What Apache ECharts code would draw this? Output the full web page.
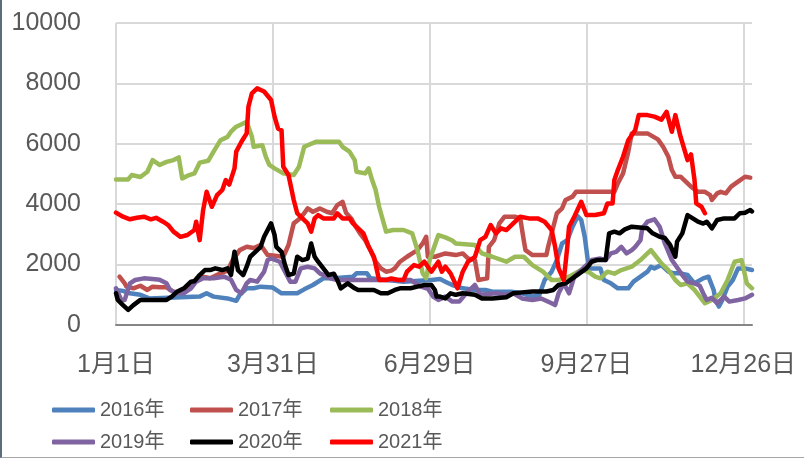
<!DOCTYPE html>
<html>
<head>
<meta charset="utf-8">
<script src="https://cdn.jsdelivr.net/npm/echarts@6/dist/echarts.min.js"></script>
<style>
	html, body { margin: 0; padding: 0; background: #fff; }
	#frame { position: absolute; left: 0; top: 0; width: 804px; height: 458px; box-sizing: border-box;
		border-left: 2px solid #5d6b7e; border-bottom: 1px solid #a6a6a6; }
	#chart { position: absolute; left: 0; top: 0; width: 804px; height: 458px; }
</style>
</head>
<body>
<div id="chart"></div>
<div id="frame"></div>
<script>
	// x = day of year (0 = 1月1日), y = value
	var xLabels = ['1月1日', '3月31日', '6月29日', '9月27日', '12月26日'];
	var yTicks = [0, 2000, 4000, 6000, 8000, 10000];
	var seriesNames = ['2016年', '2017年', '2018年', '2019年', '2020年', '2021年'];

	var s2016 = [[0,1160],[4,1130],[8,1050],[14,1000],[19,880],[48,940],[52,1050],[56,940],[64,880],[69,800],[71,1000],[75,1215],[79,1215],[83,1270],[90,1240],[95,1050],[104,1050],[108,1180],[113,1325],[119,1545],[125,1545],[136,1600],[138,1710],[144,1710],[146,1545],[156,1490],[165,1435],[181,1490],[186,1520],[189,1435],[193,1325],[199,1215],[206,1160],[212,1160],[216,1100],[227,1100],[233,1050],[239,940],[243,1000],[246,1490],[250,1765],[253,2150],[256,2700],[259,2810],[262,3255],[265,3600],[267,3475],[269,2920],[271,2040],[272,1875],[278,1875],[280,1490],[284,1380],[288,1215],[294,1215],[297,1435],[301,1600],[305,1765],[307,1930],[309,1875],[313,1985],[317,1765],[320,1710],[324,1710],[328,1655],[332,1380],[337,1545],[340,1600],[343,1160],[344,830],[346,610],[348,830],[351,1270],[354,1490],[357,1875],[361,1875],[365,1820]];

	var s2017 = [[2,1600],[5,1380],[6,1270],[10,1215],[14,1300],[18,1160],[21,1270],[25,1250],[29,1250],[33,1100],[37,1080],[41,1200],[44,1435],[50,1600],[54,1550],[60,1710],[64,1800],[67,2150],[71,2480],[75,2590],[79,2550],[83,2650],[87,2315],[90,2300],[96,2260],[99,2650],[102,3365],[105,3500],[108,3700],[110,3860],[113,3750],[117,3860],[121,3750],[124,3700],[127,3970],[130,4080],[132,3720],[135,3530],[137,3310],[140,3035],[143,2810],[146,2480],[149,2095],[152,1875],[155,1765],[158,1800],[160,1875],[163,2095],[167,2260],[170,2370],[173,2480],[176,2700],[178,2920],[179,2260],[183,2260],[189,2370],[195,2315],[199,2370],[202,2205],[206,2150],[208,1490],[213,1545],[214,2590],[217,2810],[220,3365],[223,3585],[229,3585],[232,3530],[234,2810],[235,2480],[239,2315],[247,2315],[248,2590],[251,3255],[253,3700],[256,3860],[258,4140],[262,4250],[264,4410],[286,4410],[288,4690],[291,5020],[294,5740],[296,6345],[305,6345],[311,6145],[314,5900],[317,5570],[319,5130],[321,4910],[324,4910],[327,4745],[330,4580],[334,4410],[338,4410],[341,4300],[342,4140],[345,4360],[347,4410],[350,4360],[353,4580],[357,4745],[361,4910],[364,4880]];

	var s2018 = [[0,4820],[7,4820],[9,4965],[14,4900],[18,5075],[21,5460],[25,5300],[29,5400],[33,5460],[36,5550],[38,4855],[42,4965],[45,5020],[48,5375],[53,5440],[56,5740],[60,6120],[64,6230],[66,6400],[69,6565],[73,6675],[75,6730],[78,6230],[79,5900],[84,5950],[86,5570],[88,5300],[91,5185],[96,5020],[102,4965],[105,5240],[108,5900],[110,5950],[115,6070],[128,6070],[130,5900],[134,5740],[137,5460],[138,5075],[143,5020],[145,5185],[147,4800],[149,4470],[151,3915],[155,3090],[159,3145],[165,3145],[170,3035],[173,2480],[176,1710],[178,1550],[180,2150],[185,2980],[189,2900],[193,2800],[195,2700],[206,2650],[210,2370],[216,2260],[224,2095],[229,2260],[234,2260],[239,1985],[245,1765],[250,1490],[254,1490],[260,1600],[267,1820],[271,1765],[275,1600],[278,1545],[282,1765],[286,1700],[290,1820],[296,1930],[301,2150],[305,2370],[307,2480],[310,2260],[313,2040],[317,1820],[321,1490],[324,1325],[328,1380],[332,1160],[338,720],[342,830],[347,1050],[351,1490],[355,2095],[359,2150],[362,1380],[365,1215]];

	var s2019 = [[0,1215],[1,1100],[3,830],[5,830],[8,1380],[11,1490],[16,1545],[21,1520],[25,1500],[29,1380],[31,1160],[35,1050],[39,1050],[43,1215],[46,1435],[50,1545],[56,1545],[62,1600],[66,1500],[69,1160],[72,1050],[75,1380],[77,1490],[81,1435],[85,1765],[87,2150],[89,2205],[94,2095],[97,1765],[100,1435],[103,1435],[106,1875],[110,1930],[114,1875],[117,1710],[123,1545],[127,1490],[146,1490],[169,1490],[175,1270],[179,1200],[182,940],[185,830],[189,940],[193,775],[197,775],[201,1050],[206,1325],[209,1000],[218,1050],[224,1000],[228,1050],[233,880],[239,830],[244,880],[250,720],[252,660],[254,1050],[257,1380],[260,1050],[263,1600],[266,1765],[270,1985],[273,2150],[278,2200],[281,2150],[284,2370],[287,2420],[290,2590],[293,2370],[296,2480],[298,2590],[301,2810],[302,3200],[305,3420],[309,3500],[312,3255],[315,2700],[319,2150],[323,1820],[325,1655],[328,1435],[332,1380],[335,1300],[337,1050],[339,830],[342,900],[345,720],[349,940],[352,775],[357,830],[361,880],[365,1000]];

	var s2020 = [[0,1050],[1,830],[4,660],[7,500],[10,660],[14,830],[29,830],[32,940],[35,1100],[39,1215],[43,1435],[45,1450],[48,1655],[51,1820],[54,1820],[57,1875],[61,1820],[64,1875],[66,1655],[68,2425],[70,1820],[73,1655],[75,1930],[77,2260],[80,2425],[83,2590],[85,2920],[89,3365],[91,2980],[92,2590],[95,2425],[97,1985],[99,1655],[102,1700],[104,2260],[107,2150],[110,2200],[112,2700],[114,2260],[116,2095],[119,1875],[122,1655],[125,1700],[127,1490],[129,1215],[133,1380],[137,1215],[139,1160],[148,1160],[152,1050],[156,1050],[160,1160],[163,1215],[169,1215],[173,1270],[177,1325],[181,1325],[183,1160],[184,940],[186,940],[189,880],[192,1050],[195,1000],[199,1050],[206,1000],[210,880],[216,880],[224,920],[228,1050],[233,1080],[239,1110],[247,1110],[251,1160],[254,1325],[258,1380],[262,1545],[266,1710],[270,1875],[273,2095],[276,2150],[281,2150],[283,3035],[286,3090],[289,3035],[292,3165],[296,3255],[305,3200],[308,3035],[312,2920],[315,2880],[318,2650],[321,2260],[322,2760],[325,3035],[328,3640],[331,3530],[334,3420],[337,3360],[339,3420],[342,3200],[345,3475],[349,3530],[355,3530],[358,3700],[361,3720],[364,3805],[365,3760]];

	var s2021 = [[0,3720],[4,3585],[8,3500],[12,3550],[16,3585],[20,3500],[23,3550],[27,3420],[30,3310],[33,3090],[37,2920],[41,2980],[45,3145],[46,3420],[48,2810],[50,3805],[52,4410],[55,3915],[58,4300],[61,4470],[63,4800],[65,4650],[68,5185],[69,5740],[72,6070],[75,6345],[76,7230],[78,7670],[81,7835],[85,7730],[89,7450],[91,6900],[93,6500],[95,6450],[96,5240],[99,4965],[102,4140],[104,3700],[107,3530],[110,3365],[112,3090],[114,3530],[116,3640],[119,3530],[125,3530],[127,3700],[130,3530],[134,3530],[136,3365],[137,3420],[139,3200],[142,3035],[145,2590],[148,2260],[151,1490],[155,1490],[158,1540],[162,1490],[165,1490],[167,1765],[171,1985],[174,1930],[177,2095],[179,1930],[181,1765],[183,1930],[185,2095],[187,1765],[189,1930],[192,1710],[196,1215],[199,1765],[202,2095],[206,2260],[209,2810],[212,2920],[215,3310],[218,3035],[221,3200],[224,3145],[228,3365],[232,3585],[237,3530],[242,3530],[246,3420],[250,3145],[252,2590],[254,1875],[257,1490],[259,2590],[260,3255],[263,3585],[267,4080],[270,3640],[275,3640],[280,3700],[282,4025],[285,4025],[286,4800],[288,5130],[291,5570],[294,6120],[298,6455],[300,6950],[305,6950],[309,6900],[313,6800],[316,7060],[319,6400],[321,6950],[324,6235],[328,5460],[330,5650],[332,4800],[333,4025],[336,3915],[338,3700]];

	var seriesData = [s2016, s2017, s2018, s2019, s2020, s2021];
	var colors = ['#4F81BD', '#C0504D', '#9BBB59', '#8064A2', '#000000', '#FF0000'];

	var chart = echarts.init(document.getElementById('chart'));

	function makeSerie(name, data, color) {
		return {
			name: name,
			type: 'line',
			data: data,
			symbol: 'none',
			color: color,
			lineStyle: { width: 4.5, color: color, cap: 'round', join: 'round' },
			animation: false
		};
	}

	var series = [];
	for (var i = 0; i < seriesNames.length; i++) {
		series.push(makeSerie(seriesNames[i], seriesData[i], colors[i]));
	}

	// legends: 3 per row, 2 rows
	var legendLeft = [52, 190, 330];
	var legendTop = [398, 430];
	var legends = [];
	for (var k = 0; k < seriesNames.length; k++) {
		legends.push({
			data: [seriesNames[k]],
			left: legendLeft[k % 3],
			top: legendTop[Math.floor(k / 3)],
			padding: 0,
			icon: 'roundRect',
			itemWidth: 43,
			itemHeight: 5,
			itemGap: 0,
			textStyle: {
				fontSize: 20,
				color: '#595959',
				fontFamily: '"Liberation Sans", "Noto Sans CJK SC", sans-serif',
				lineHeight: 24,
				padding: [0, 0, 0, 0]
			}
		});
	}

	var labelFont = '"Liberation Sans", "Noto Sans CJK SC", sans-serif';

	chart.setOption({
		backgroundColor: '#fff',
		animation: false,
		grid: { left: 116, right: 52, top: 23, bottom: 133 },
		legend: legends,
		xAxis: {
			type: 'value',
			min: 0,
			max: 365,
			interval: 90,
			axisLine: { show: true, onZero: false, lineStyle: { color: '#868686', width: 2 } },
			axisTick: { show: false },
			splitLine: { show: true, showMaxLine: false, lineStyle: { color: '#d9d9d9', width: 2 } },
			axisLabel: {
				showMaxLabel: false,
				margin: 28,
				fontSize: 25,
				color: '#595959',
				fontFamily: labelFont,
				formatter: function (v) { return xLabels[Math.round(v / 90)] || ''; }
			}
		},
		yAxis: {
			type: 'value',
			min: yTicks[0],
			max: yTicks[yTicks.length - 1],
			interval: 2000,
			axisLine: { show: false },
			axisTick: { show: false },
			splitLine: { lineStyle: { color: '#d9d9d9', width: 2 } },
			axisLabel: {
				margin: 35, fontSize: 25, color: '#595959', fontFamily: labelFont,
				formatter: function (v) { return String(v); }
			}
		},
		series: series
	});
</script>
</body>
</html>
